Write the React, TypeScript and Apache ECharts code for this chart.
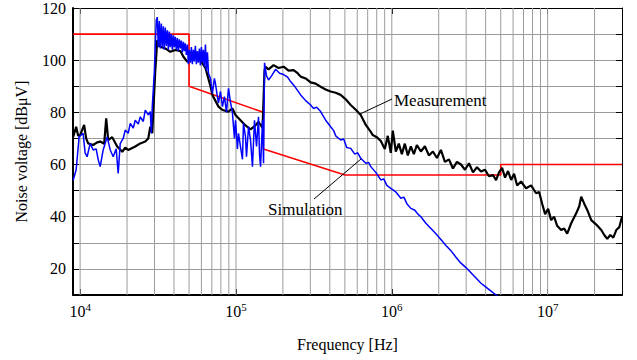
import React, { useEffect, useRef } from "react";
import * as echarts from "echarts";

const FONT = "Liberation Serif, Times New Roman, serif";

// Limit line (red)
const limitLine: [number, number][] = [
  [9000, 110], [5e4, 110], [5e4, 90], [1.5e5, 80], [1.5e5, 66],
  [5e5, 56], [5e6, 56], [5e6, 60], [3e7, 60],
];

// Measurement (black)
const measurement: [number, number][] = [
  [9.02e3, 70.6], [9.43e3, 74.5], [9.71e3, 71], [1e4, 71.3], [1.061e4, 75.2], [1.093e4, 70],
  [1.126e4, 68.1], [1.212e4, 67.5], [1.286e4, 68.5], [1.345e4, 68.8], [1.427e4, 68], [1.47e4, 77.7],
  [1.514e4, 69.4], [1.606e4, 70.5], [1.73e4, 66.9], [1.863e4, 64.9], [1.947e4, 66.5], [2.035e4, 65.6],
  [2.258e4, 66.9], [2.432e4, 68.1], [2.618e4, 68.8], [2.737e4, 70], [2.82e4, 74.5], [2.904e4, 72],
  [2.99e4, 88], [3.035e4, 96], [3.127e4, 107.7], [3.27e4, 105.2], [3.52e4, 104.5], [3.79e4, 103.2],
  [4.08e4, 103.9], [4.4e4, 103.5], [4.6e4, 101.3], [4.88e4, 99.4], [5.1e4, 100.5], [5.49e4, 101],
  [5.91e4, 100], [6.37e4, 97], [6.86e4, 90], [7.06e4, 86.7], [7.72e4, 82.2], [8.19e4, 80.9],
  [8.95e4, 80.3], [9.49e4, 81.5], [9.93e4, 79], [1.069e5, 77], [1.151e5, 75], [1.24e5, 73.5],
  [1.335e5, 75], [1.395e5, 76.4], [1.481e5, 74], [1.525e5, 96], [1.548e5, 97.5], [1.618e5, 96.5],
  [1.742e5, 98.1], [1.876e5, 97], [2.021e5, 97.5], [2.176e5, 96], [2.344e5, 96.2], [2.486e5, 95],
  [2.6e5, 93.7], [2.8e5, 93], [3.014e5, 91.5], [3.245e5, 91], [3.494e5, 89.8], [3.763e5, 88.8],
  [4.052e5, 88], [4.364e5, 87.5], [4.7e5, 86.7], [5.06e5, 85], [5.45e5, 82.8], [5.87e5, 81],
  [6.32e5, 79], [6.81e5, 75.2], [7.33e5, 72.5], [7.55e5, 71.3], [8.01e5, 70.5], [8.5e5, 69],
  [9.02e5, 66], [9.42e5, 71], [9.85e5, 64.5], [1.015e6, 73], [1.061e6, 65], [1.109e6, 68],
  [1.16e6, 64], [1.212e6, 68], [1.267e6, 63.5], [1.325e6, 67], [1.385e6, 64], [1.448e6, 67.5],
  [1.537e6, 65], [1.63e6, 67], [1.73e6, 63.5], [1.835e6, 65], [1.948e6, 62.5], [2.066e6, 65.6],
  [2.192e6, 61], [2.326e6, 62], [2.468e6, 58.5], [2.618e6, 61], [2.778e6, 60], [2.948e6, 58],
  [3.128e6, 60.5], [3.318e6, 57], [3.521e6, 59], [3.735e6, 57.3], [3.963e6, 58], [4.205e6, 55.5],
  [4.462e6, 56], [4.666e6, 54], [4.877e6, 57], [5.1e6, 58.7], [5.33e6, 55], [5.57e6, 57.5],
  [5.83e6, 54.1], [6.09e6, 56.5], [6.37e6, 52], [6.75e6, 53.5], [7.27e6, 50.9], [7.83e6, 52],
  [8.43e6, 49], [8.82e6, 49.5], [9.22e6, 45], [9.63e6, 41], [1.007e7, 43], [1.053e7, 38.7],
  [1.101e7, 40], [1.151e7, 36.5], [1.221e7, 34.9], [1.277e7, 35.5], [1.335e7, 33.5], [1.416e7, 37.5],
  [1.525e7, 41.3], [1.595e7, 44], [1.642e7, 47.7], [1.717e7, 45], [1.795e7, 42.6], [1.905e7, 38.7],
  [2.051e7, 37], [2.208e7, 34.9], [2.308e7, 33], [2.413e7, 31.5], [2.523e7, 33], [2.638e7, 32],
  [2.757e7, 34.9], [2.883e7, 36], [3e7, 40],
];

// Simulation (blue)
const simulation: [number, number][] = [
  [9.02e3, 54], [9.43e3, 58], [9.85e3, 70.6], [1.045e4, 72], [1.077e4, 64.4], [1.109e4, 63],
  [1.16e4, 68.1], [1.212e4, 65.6], [1.267e4, 66], [1.305e4, 62], [1.345e4, 59.2], [1.406e4, 65.6],
  [1.49e4, 70.6], [1.56e4, 65.6], [1.63e4, 63], [1.704e4, 66], [1.755e4, 56.6], [1.808e4, 68],
  [1.89e4, 70], [1.947e4, 73.2], [2.035e4, 72], [2.097e4, 75.8], [2.192e4, 74], [2.258e4, 77],
  [2.361e4, 75.5], [2.432e4, 78.3], [2.542e4, 76.5], [2.618e4, 80.9], [2.737e4, 79], [2.82e4, 80.3],
  [2.862e4, 72], [2.904e4, 82.2], [2.99e4, 95], [3.08e4, 115.4], [3.127e4, 116.5],
  [3.173e4, 105], [3.221e4, 115], [3.27e4, 104.5], [3.318e4, 114], [3.368e4, 105], [3.419e4, 113],
  [3.469e4, 104], [3.52e4, 112.5], [3.574e4, 105.5], [3.627e4, 111.5], [3.681e4, 104], [3.736e4, 111],
  [3.79e4, 105], [3.848e4, 110], [3.905e4, 104], [3.963e4, 109.5], [4.022e4, 105], [4.08e4, 109],
  [4.143e4, 104], [4.205e4, 108.5], [4.267e4, 103.5], [4.332e4, 108], [4.4e4, 104.5], [4.462e4, 107.5],
  [4.528e4, 103], [4.6e4, 107], [4.665e4, 103.5], [4.734e4, 106.5], [4.805e4, 102], [4.88e4, 106],
  [4.949e4, 98.5], [5.02e4, 104], [5.1e4, 99], [5.174e4, 105], [5.252e4, 98.5], [5.33e4, 104],
  [5.41e4, 99.5], [5.49e4, 105.5], [5.572e4, 98.5], [5.655e4, 103.5], [5.74e4, 99], [5.826e4, 104.5],
  [5.91e4, 98], [6.0e4, 105], [6.09e4, 99], [6.18e4, 104], [6.27e4, 97.5], [6.37e4, 106],
  [6.462e4, 96], [6.56e4, 103], [6.66e4, 95], [6.86e4, 93],
  [7.06e4, 87.3], [7.27e4, 93], [7.38e4, 91.1], [7.6e4, 86], [7.72e4, 83.5], [7.95e4, 88],
  [8.19e4, 82.2], [8.44e4, 86], [8.69e4, 80], [8.95e4, 89.2], [9.22e4, 84], [9.49e4, 79.8],
  [9.78e4, 70], [9.93e4, 77], [1.022e5, 66], [1.038e5, 72], [1.069e5, 66.9], [1.101e5, 62],
  [1.117e5, 75.8], [1.151e5, 70.7], [1.168e5, 63], [1.204e5, 74.5], [1.24e5, 69.4], [1.276e5, 59.2],
  [1.315e5, 77], [1.355e5, 66.9], [1.395e5, 78.3], [1.416e5, 64], [1.438e5, 59.2], [1.481e5, 77],
  [1.503e5, 60.5], [1.525e5, 99], [1.571e5, 94], [1.618e5, 92.4], [1.692e5, 94], [1.795e5, 96.5],
  [1.905e5, 95], [2.021e5, 94.5], [2.144e5, 93.5], [2.241e5, 91.8], [2.413e5, 89.5], [2.6e5, 86.7],
  [2.8e5, 84.5], [3.014e5, 82.8], [3.15e5, 81.5], [3.294e5, 82], [3.494e5, 80.3], [3.763e5, 77],
  [4.052e5, 74.5], [4.237e5, 73], [4.364e5, 71], [4.7e5, 69.4], [4.913e5, 69.8], [5.136e5, 66.5],
  [5.45e5, 66.2], [5.78e5, 64], [6.045e5, 64.5], [6.32e5, 62.4], [6.81e5, 60.5], [7.11e5, 60.8],
  [7.33e5, 59.2], [7.89e5, 57], [8.5e5, 54.1], [8.88e5, 54.5], [9.29e5, 52], [9.85e5, 50.9],
  [1.061e6, 49.5], [1.143e6, 47.1], [1.195e6, 47.5], [1.249e6, 45], [1.325e6, 43.2], [1.406e6, 42.5],
  [1.47e6, 41], [1.537e6, 40], [1.654e6, 37.5], [1.782e6, 35.5], [1.919e6, 33.5], [2.066e6, 31.3],
  [2.225e6, 29], [2.395e6, 27], [2.58e6, 24.5], [2.778e6, 22.2], [2.991e6, 20.5], [3.221e6, 18.5],
  [3.469e6, 16.5], [3.735e6, 14.5], [4.022e6, 13], [4.332e6, 11.5], [4.666e6, 10], [4.9e6, 9],
];

// Vertical log grid lines
const gridFreqs: number[] = [
  1e4, 2e4, 3e4, 4e4, 5e4, 6e4, 7e4, 8e4, 9e4,
  1e5, 2e5, 3e5, 4e5, 5e5, 6e5, 7e5, 8e5, 9e5,
  1e6, 2e6, 3e6, 4e6, 5e6, 6e6, 7e6, 8e6, 9e6,
  1e7, 2e7,
];

const yLabelValues = [20, 40, 60, 80, 100, 120];

export default function App() {
  const ref = useRef<HTMLDivElement>(null);

  useEffect(() => {
    if (!ref.current) return;
    const chart = echarts.init(ref.current, undefined, { renderer: "svg" });

    const xLabelFmt = (v: number) => {
      const l = Math.log10(v);
      const e = Math.round(l);
      if (Math.abs(l - e) > 1e-6) return "";
      return "{b|10}{s|" + e + "}";
    };

    const option: any = {
      animation: false,
      backgroundColor: "#ffffff",
      textStyle: { fontFamily: FONT },
      grid: { left: 73, right: 15, top: 8, bottom: 65, containLabel: false },
      xAxis: [
        {
          type: "log",
          logBase: 10,
          min: 9000,
          max: 3e7,
          position: "bottom",
          name: "Frequency [Hz]",
          nameLocation: "middle",
          nameGap: 41,
          nameTextStyle: { fontFamily: FONT, fontSize: 16, color: "#000" },
          axisLine: { show: true, onZero: false, lineStyle: { color: "#000", width: 2 } },
          axisTick: { show: true, inside: true, length: 6, lineStyle: { color: "#000", width: 1 } },
          splitLine: { show: false },
          axisLabel: {
            formatter: xLabelFmt,
            fontFamily: FONT,
            showMinLabel: false,
            showMaxLabel: false,
            margin: 6,
            rich: {
              b: { fontFamily: FONT, fontSize: 16, color: "#000", lineHeight: 18, verticalAlign: "bottom" },
              s: { fontFamily: FONT, fontSize: 11, color: "#000", lineHeight: 11, verticalAlign: "top" },
            },
          },
        },
        {
          type: "log",
          logBase: 10,
          min: 9000,
          max: 3e7,
          position: "top",
          axisLine: { show: true, onZero: false, lineStyle: { color: "#000", width: 1 } },
          axisTick: { show: true, inside: true, length: 6, lineStyle: { color: "#000", width: 1 } },
          axisLabel: { show: false },
          splitLine: { show: false },
        },
      ],
      yAxis: [
        {
          type: "value",
          min: 10,
          max: 120,
          interval: 10,
          position: "left",
          name: "Noise voltage [dBμV]",
          nameLocation: "middle",
          nameGap: 44,
          nameRotate: 90,
          nameTextStyle: { fontFamily: FONT, fontSize: 16, color: "#000" },
          axisLine: { show: true, onZero: false, lineStyle: { color: "#000", width: 2 } },
          axisTick: { show: true, inside: true, length: 6, lineStyle: { color: "#000", width: 1 } },
          splitLine: { show: true, lineStyle: { color: "#9c9c9c", width: 1 } },
          axisLabel: {
            fontFamily: FONT,
            fontSize: 16,
            color: "#000",
            margin: 7,
            formatter: (v: number) => (yLabelValues.indexOf(v) >= 0 ? String(v) : ""),
          },
        },
        {
          type: "value",
          min: 10,
          max: 120,
          interval: 10,
          position: "right",
          axisLine: { show: true, onZero: false, lineStyle: { color: "#000", width: 1 } },
          axisTick: { show: true, inside: true, length: 6, lineStyle: { color: "#000", width: 1 } },
          axisLabel: { show: false },
          splitLine: { show: false },
        },
      ],
      series: [
        {
          type: "custom",
          name: "grid",
          silent: true,
          z: 1,
          xAxisIndex: 0,
          yAxisIndex: 0,
          data: gridFreqs.map((f) => [f, 10]),
          encode: { x: 0, y: 1 },
          renderItem: (params: any, api: any) => {
            const f = api.value(0);
            const top = api.coord([f, 120]);
            const bot = api.coord([f, 10]);
            return {
              type: "line",
              shape: { x1: top[0], y1: top[1], x2: bot[0], y2: bot[1] },
              style: { stroke: "#9c9c9c", lineWidth: 1 },
            };
          },
        },
        {
          type: "line",
          name: "Limit",
          data: limitLine,
          showSymbol: false,
          symbol: "none",
          z: 2,
          lineStyle: { color: "#ff0000", width: 1.6 },
        },
        {
          type: "line",
          name: "Measurement",
          data: measurement,
          showSymbol: false,
          symbol: "none",
          z: 3,
          lineStyle: { color: "#000000", width: 2.2 },
        },
        {
          type: "line",
          name: "Simulation",
          data: simulation,
          showSymbol: false,
          symbol: "none",
          z: 4,
          lineStyle: { color: "#0000ff", width: 1.5 },
        },
      ],
      graphic: [
        { type: "line", shape: { x1: 360, y1: 114, x2: 392, y2: 99 }, style: { stroke: "#000", lineWidth: 1 }, z: 10 },
        {
          type: "text",
          x: 394,
          y: 100,
          z: 10,
          style: { text: "Measurement", fill: "#000", fontFamily: FONT, fontSize: 17, textVerticalAlign: "middle", textAlign: "left" },
        },
        { type: "line", shape: { x1: 314, y1: 199, x2: 361, y2: 159 }, style: { stroke: "#000", lineWidth: 1 }, z: 10 },
        {
          type: "text",
          x: 268,
          y: 209,
          z: 10,
          style: { text: "Simulation", fill: "#000", fontFamily: FONT, fontSize: 17, textVerticalAlign: "middle", textAlign: "left" },
        },
      ],
    };

    chart.setOption(option);
    return () => chart.dispose();
  }, []);

  return (
    <div
      ref={ref}
      style={{ position: "fixed", left: 0, top: 0, width: 637, height: 360, background: "#fff" }}
    />
  );
}
